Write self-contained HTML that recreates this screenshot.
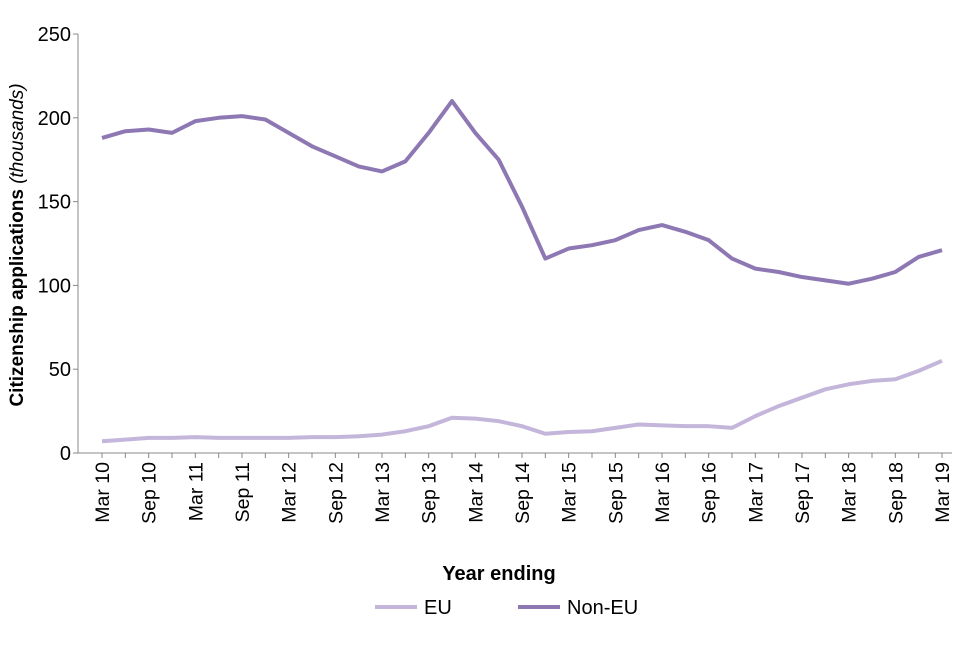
<!DOCTYPE html>
<html><head><meta charset="utf-8"><style>
body{margin:0;background:#fff;font-family:"Liberation Sans",Arial,sans-serif}
</style></head><body>
<svg id="chart" width="960" height="640" xmlns="http://www.w3.org/2000/svg"></svg>
<script>
const categories=["Mar 10","Jun 10","Sep 10","Dec 10","Mar 11","Jun 11","Sep 11","Dec 11","Mar 12","Jun 12","Sep 12","Dec 12","Mar 13","Jun 13","Sep 13","Dec 13","Mar 14","Jun 14","Sep 14","Dec 14","Mar 15","Jun 15","Sep 15","Dec 15","Mar 16","Jun 16","Sep 16","Dec 16","Mar 17","Jun 17","Sep 17","Dec 17","Mar 18","Jun 18","Sep 18","Dec 18","Mar 19"];
const nonEU=[188,192,193,191,198,200,201,199,191,183,177,171,168,174,191,210,191,175,147,116,122,124,127,133,136,132,127,116,110,108,105,103,101,104,108,117,121];
const eu=[7,8,9,9,9.5,9,9,9,9,9.5,9.5,10,11,13,16,21,20.5,19,16,11.5,12.5,13,15,17,16.5,16,16,15,22,28,33,38,41,43,44,49,55];
const yTicks=[0,50,100,150,200,250];
const NS="http://www.w3.org/2000/svg";
const svg=document.getElementById('chart');
const x0=102,x1=942,yBase=453,yTop=34;
const xs=i=>x0+i*(x1-x0)/(categories.length-1);
const ys=v=>yBase-v*(yBase-yTop)/250;
function mk(t,a,txt){const e=document.createElementNS(NS,t);for(const k in a)e.setAttribute(k,a[k]);if(txt!=null)e.textContent=txt;svg.appendChild(e);return e;}
let e=mk('line',{x1:78,y1:yTop,x2:78,y2:yBase,stroke:'#888','stroke-width':1});

e=mk('line',{x1:78,y1:yBase,x2:952,y2:yBase,stroke:'#888','stroke-width':1});

yTicks.forEach(v=>{
 const t=mk('text',{x:71,y:ys(v)+7,'text-anchor':'end','font-size':20,fill:'#000'},v);
 
 const l=mk('line',{x1:73,y1:ys(v),x2:78,y2:ys(v),stroke:'#888'});
 
});
categories.forEach((c,i)=>{
 const l=mk('line',{x1:xs(i),y1:yBase,x2:xs(i),y2:yBase+5,stroke:'#888'});
 
 if(i%2===0){
  const x=xs(i)+7,y=yBase+9;
  const t=mk('text',{x:x,y:y,'text-anchor':'end','font-size':19.5,fill:'#000',transform:`rotate(-90 ${x} ${y})`},c);
  
 }
});
function line(data,color,name){
 const p=mk('polyline',{points:data.map((v,i)=>xs(i)+','+ys(v)).join(' '),fill:'none',stroke:color,'stroke-width':4,'stroke-linejoin':'round'});
 
}
line(eu,'#c4b6da','eu-line');
line(nonEU,'#8e78b3','non-eu-line');
const yt=mk('text',{x:0,y:0,'font-size':19,'font-weight':'bold','text-anchor':'middle',transform:'translate(23 245) rotate(-90)'});
yt.innerHTML='Citizenship applications <tspan font-weight="normal" font-style="italic">(thousands)</tspan>';

const xt=mk('text',{x:499,y:580,'font-size':20,'font-weight':'bold','text-anchor':'middle'},'Year ending');

[[375,'#c4b6da','EU','legend-entry-eu'],[518,'#8e78b3','Non-EU','legend-entry-non-eu']].forEach(([x,c,l,n])=>{
 const g=mk('g',{});
 const ln=document.createElementNS(NS,'line');ln.setAttribute('x1',x);ln.setAttribute('x2',x+42);ln.setAttribute('y1',607);ln.setAttribute('y2',607);ln.setAttribute('stroke',c);ln.setAttribute('stroke-width',4);g.appendChild(ln);
 const t=document.createElementNS(NS,'text');t.setAttribute('x',x+49);t.setAttribute('y',614);t.setAttribute('font-size',20);t.textContent=l;g.appendChild(t);
});
</script>
</body></html>
